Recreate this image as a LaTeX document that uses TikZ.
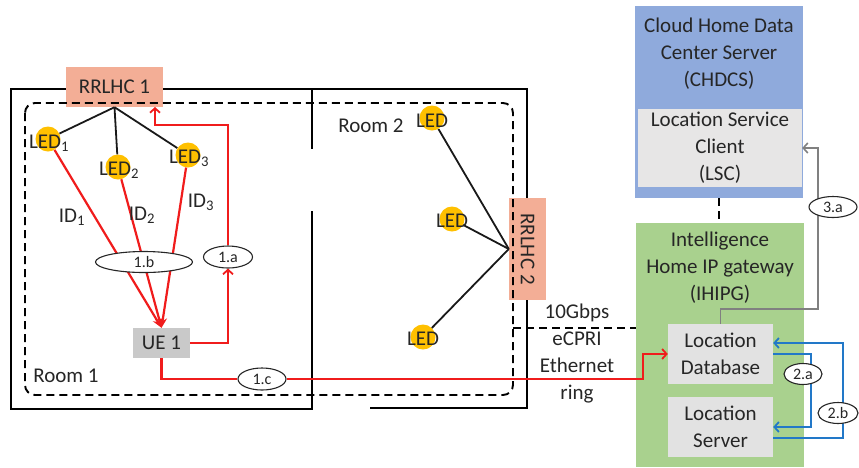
\documentclass[tikz,border=0pt]{standalone}
\usepackage{fontspec}
\setmainfont{Carlito}
\usetikzlibrary{arrows.meta,calc,shapes.geometric}
\definecolor{txtc}{HTML}{262626}
\definecolor{ledy}{HTML}{FFC000}
\definecolor{salmon}{HTML}{F3AE96}
\definecolor{uegray}{HTML}{C9C9C9}
\definecolor{cloudblue}{HTML}{8FAADC}
\definecolor{lscgray}{HTML}{E7E6E6}
\definecolor{gwgreen}{HTML}{A9D18E}
\definecolor{dbgray}{HTML}{E2E2E2}
\definecolor{arrgray}{HTML}{808080}
\definecolor{arrblue}{HTML}{2278C8}
\definecolor{arrred}{HTML}{F01C1C}
\tikzset{
  txt/.style={font=\fontsize{21}{27}\selectfont, text=txtc, align=center, inner sep=0pt},
  box/.style={txt, draw=none},
  lbl/.style={ellipse, draw=black!85, line width=1.1pt, fill=white, inner sep=0pt,
              font=\fontsize{16}{18}\selectfont, text=txtc},
  wall/.style={line width=2pt, black},
  zone/.style={line width=1.9pt, black, dash pattern=on 8pt off 5pt, rounded corners=10pt},
  link/.style={line width=1.9pt, black, dash pattern=on 8pt off 5pt},
  blk/.style={line width=1.8pt, black!90},
  ledc/.style={circle, fill=ledy, minimum size=25pt, inner sep=0pt},
  redline/.style={line width=2.2pt, arrred},
  redarr/.style={redline, -{Straight Barb[length=4.5pt,width=10pt,line width=1.8pt]}},
  redconv/.style={redline, -{Stealth[length=10pt,width=8pt]}},
  grayarr/.style={line width=1.9pt, arrgray, -{Straight Barb[length=4.5pt,width=10pt,line width=1.6pt]}},
  bluearr/.style={line width=2.2pt, arrblue, -{Straight Barb[length=4.5pt,width=10pt,line width=1.8pt]}},
}
\begin{document}
\begin{tikzpicture}[x=1pt,y=-1pt]
\useasboundingbox (0,0) rectangle (859,467);

% walls
\draw[wall] (312,211) -- (312,409) -- (11,409) -- (11,89) -- (527,89) -- (527,408) -- (370,408);
\draw[wall] (312,89) -- (312,149);

% RRLHC boxes
\node[box, fill=salmon, minimum width=97pt, minimum height=40pt] (r1) at (114.5,87) {RRLHC 1};
\node[box, fill=salmon, rotate=-90, minimum width=102pt, minimum height=37pt] (r2) at (527.5,249) {RRLHC 2};
\coordinate (r1in) at (155,107);

% dashed zone
\draw[zone] (25,103) rectangle (513,395);

% room labels
\node[txt] (room1) at (66,376) {Room 1};
\node[txt] (room2) at (371,126) {Room 2};

% room 1 LEDs
\node[ledc] (l1c) at (48,139) {};
\node[ledc] (l2c) at (118,167) {};
\node[ledc] (l3c) at (188,155) {};
\draw[blk] (r1.south) -- (l1c);
\draw[blk] (r1.south) -- (l2c);
\draw[blk] (r1.south) -- (l3c);
\node[txt] (l1) at (49,143) {LED\textsubscript{1}};
\node[txt] (l2) at (119,170) {LED\textsubscript{2}};
\node[txt] (l3) at (189,158) {LED\textsubscript{3}};

% room 2 LEDs
\node[ledc] (l4c) at (432,118) {};
\node[ledc] (l5c) at (452,219) {};
\node[ledc] (l6c) at (423,337) {};
\draw[blk] (r2.south) -- (l4c);
\draw[blk] (r2.south) -- (l5c);
\draw[blk] (r2.south) -- (l6c);
\node[txt] (l4) at (432,121) {LED};
\node[txt] (l5) at (452,221) {LED};
\node[txt] (l6) at (423,339) {LED};

% UE
\node[box, fill=uegray, minimum width=57pt, minimum height=30pt] (ue) at (161.5,343) {UE 1};

% red downlink
\draw[redconv] (l1c) -- (ue.north);
\draw[redconv] (l2c) -- (ue.north);
\draw[redconv] (l3c) -- (ue.north);
\node[txt] (id1) at (72,217) {ID\textsubscript{1}};
\node[txt] (id2) at (142,215) {ID\textsubscript{2}};
\node[txt] (id3) at (201,202) {ID\textsubscript{3}};
\node[lbl, minimum width=97pt, minimum height=21pt] (b1) at (144,262) {1.b};

% 1.a
\node[lbl, minimum width=49pt, minimum height=22pt] (a1) at (228,257) {1.a};
\draw[redarr] (ue.east) -| (a1.south);
\draw[redarr] (a1.north) |- (155,125) -- (r1in);

% right side boxes
\node[box, fill=cloudblue, minimum width=168pt, minimum height=192pt] (cloud) at (719,102) {};
\node[txt] (cloudt) at (719,54) {Cloud Home Data\\Center Server\\(CHDCS)};
\node[box, fill=lscgray, minimum width=164pt, minimum height=78pt] (lsc) at (720,148) {Location Service\\Client\\(LSC)};
\node[box, fill=gwgreen, minimum width=168pt, minimum height=244pt] (ih) at (720,345) {};
\node[txt] (iht) at (720,268) {Intelligence\\Home IP gateway\\(IHIPG)};
\node[box, fill=dbgray, minimum width=105pt, minimum height=60pt] (db) at (720.5,354) {Location\\Database};
\node[box, fill=dbgray, minimum width=105pt, minimum height=60pt] (ls) at (720.5,427) {Location\\Server};

% links
\draw[link] (cloud.south) -- (cloud.south |- ih.north);
\coordinate (zr) at (513,328);
\draw[link] (zr) -- (zr -| ih.west);
\node[txt] (eth) at (577,354) {10Gbps\\eCPRI\\Ethernet\\ring};

% 1.c
\node[lbl, minimum width=48pt, minimum height=22pt] (c1) at (262,379) {1.c};
\draw[redline] (ue.south) |- (c1.west);
\draw[redarr] (c1.east) -- (643,379) |- (db.west);

% 3.a
\draw[grayarr] (db.north) |- (818,309) |- (lsc.east);
\node[lbl, minimum width=48pt, minimum height=21pt] (a3) at (833,207) {3.a};

% 2.a / 2.b
\draw[bluearr] (db.east) -- (811,354) |- (ls.east);
\draw[bluearr] ($(ls.east)+(0,11)$) -- (843,438) |- ($(db.east)+(0,-11)$);
\node[lbl, minimum width=38pt, minimum height=21pt] (a2) at (803,374) {2.a};
\node[lbl, minimum width=40pt, minimum height=21pt] (b2) at (838,413) {2.b};
\end{tikzpicture}
\end{document}
